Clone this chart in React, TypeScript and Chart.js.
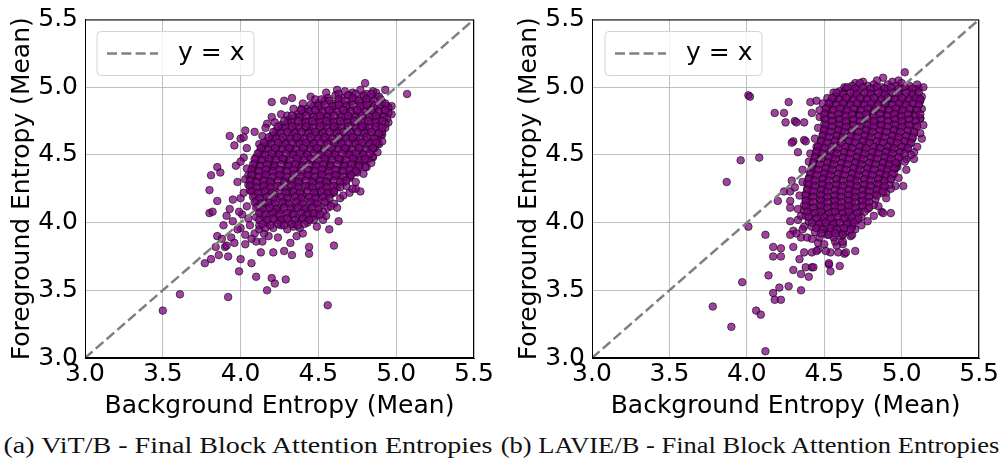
import React, { useEffect, useRef } from "react";
import { Chart, registerables } from "chart.js";

Chart.register(...registerables);

// ---------- DATA ----------
const axisTicks = [3.0, 3.5, 4.0, 4.5, 5.0, 5.5];
const diagonal = [3.0, 5.5];
const xTitle = "Background Entropy (Mean)";
const yTitle = "Foreground Entropy (Mean)";
const legendLabel = "y = x";
const captions = [
  "(a) ViT/B - Final Block Attention Entropies",
  "(b) LAVIE/B - Final Block Attention Entropies",
];

// ViT/B — dense centre of the cloud [background, foreground]
const vitCore: number[][] = [
  [4.67,4.97],[4.72,4.96],[4.77,4.98],[4.81,4.95],
  [4.56,4.92],[4.61,4.94],[4.65,4.92],[4.70,4.94],[4.74,4.91],[4.79,4.93],[4.84,4.92],[4.89,4.93],
  [4.50,4.88],[4.54,4.90],[4.59,4.88],[4.63,4.89],[4.68,4.87],[4.72,4.90],[4.77,4.88],[4.81,4.89],[4.86,4.87],[4.91,4.89],[4.94,4.86],
  [4.43,4.84],[4.47,4.86],[4.52,4.85],[4.56,4.83],[4.61,4.86],[4.65,4.84],[4.70,4.85],[4.74,4.83],[4.79,4.86],[4.83,4.84],[4.88,4.85],[4.92,4.83],[4.95,4.85],
  [4.37,4.80],[4.41,4.82],[4.46,4.80],[4.50,4.81],[4.55,4.79],[4.59,4.82],[4.64,4.80],[4.68,4.81],[4.73,4.79],[4.77,4.82],[4.82,4.80],[4.86,4.81],[4.91,4.79],[4.95,4.81],
  [4.31,4.76],[4.35,4.78],[4.40,4.77],[4.44,4.75],[4.49,4.78],[4.53,4.76],[4.58,4.77],[4.62,4.75],[4.67,4.78],[4.71,4.76],[4.76,4.77],[4.80,4.75],[4.85,4.78],[4.89,4.76],[4.94,4.77],
  [4.26,4.72],[4.30,4.74],[4.35,4.72],[4.39,4.73],[4.44,4.71],[4.48,4.74],[4.53,4.72],[4.57,4.73],[4.62,4.71],[4.66,4.74],[4.71,4.72],[4.75,4.73],[4.80,4.71],[4.84,4.74],[4.89,4.72],[4.93,4.73],
  [4.23,4.68],[4.27,4.70],[4.32,4.69],[4.36,4.67],[4.41,4.70],[4.45,4.68],[4.50,4.69],[4.54,4.67],[4.59,4.70],[4.63,4.68],[4.68,4.69],[4.72,4.67],[4.77,4.70],[4.81,4.68],[4.86,4.69],[4.91,4.67],
  [4.20,4.64],[4.24,4.66],[4.29,4.64],[4.33,4.65],[4.38,4.63],[4.42,4.66],[4.47,4.64],[4.51,4.65],[4.56,4.63],[4.60,4.66],[4.65,4.64],[4.69,4.65],[4.74,4.63],[4.78,4.66],[4.83,4.64],[4.88,4.65],
  [4.17,4.60],[4.21,4.62],[4.26,4.61],[4.30,4.59],[4.35,4.62],[4.39,4.60],[4.44,4.61],[4.48,4.59],[4.53,4.62],[4.57,4.60],[4.62,4.61],[4.66,4.59],[4.71,4.62],[4.75,4.60],[4.80,4.61],[4.85,4.59],[4.88,4.62],
  [4.14,4.56],[4.18,4.58],[4.23,4.56],[4.27,4.57],[4.32,4.55],[4.36,4.58],[4.41,4.56],[4.45,4.57],[4.50,4.55],[4.54,4.58],[4.59,4.56],[4.63,4.57],[4.68,4.55],[4.72,4.58],[4.77,4.56],[4.82,4.57],[4.86,4.55],
  [4.12,4.52],[4.16,4.54],[4.21,4.53],[4.25,4.51],[4.30,4.54],[4.34,4.52],[4.39,4.53],[4.43,4.51],[4.48,4.54],[4.52,4.52],[4.57,4.53],[4.61,4.51],[4.66,4.54],[4.70,4.52],[4.75,4.53],[4.79,4.51],[4.84,4.54],
  [4.10,4.48],[4.14,4.50],[4.19,4.48],[4.23,4.49],[4.28,4.47],[4.32,4.50],[4.37,4.48],[4.41,4.49],[4.46,4.47],[4.50,4.50],[4.55,4.48],[4.59,4.49],[4.64,4.47],[4.68,4.50],[4.73,4.48],[4.77,4.49],[4.82,4.47],
  [4.09,4.44],[4.13,4.46],[4.18,4.45],[4.22,4.43],[4.27,4.46],[4.31,4.44],[4.36,4.45],[4.40,4.43],[4.45,4.46],[4.49,4.44],[4.54,4.45],[4.58,4.43],[4.63,4.46],[4.67,4.44],[4.72,4.45],[4.76,4.43],[4.79,4.46],
  [4.08,4.40],[4.12,4.42],[4.17,4.40],[4.21,4.41],[4.26,4.39],[4.30,4.42],[4.35,4.40],[4.39,4.41],[4.44,4.39],[4.48,4.42],[4.53,4.40],[4.57,4.41],[4.62,4.39],[4.66,4.42],[4.71,4.40],[4.76,4.41],
  [4.07,4.36],[4.11,4.38],[4.16,4.36],[4.20,4.37],[4.25,4.35],[4.29,4.38],[4.34,4.36],[4.38,4.37],[4.43,4.35],[4.47,4.38],[4.52,4.36],[4.56,4.37],[4.61,4.35],[4.65,4.38],[4.70,4.36],[4.73,4.37],
  [4.07,4.32],[4.11,4.34],[4.15,4.33],[4.20,4.31],[4.24,4.34],[4.29,4.32],[4.33,4.33],[4.38,4.31],[4.42,4.34],[4.47,4.32],[4.51,4.33],[4.56,4.31],[4.60,4.34],[4.65,4.32],[4.70,4.33],
  [4.07,4.28],[4.11,4.30],[4.16,4.28],[4.20,4.29],[4.25,4.27],[4.29,4.30],[4.34,4.28],[4.38,4.29],[4.43,4.27],[4.47,4.30],[4.52,4.28],[4.56,4.29],[4.61,4.27],[4.66,4.30],
  [4.08,4.24],[4.12,4.26],[4.17,4.25],[4.21,4.23],[4.26,4.26],[4.30,4.24],[4.35,4.25],[4.39,4.23],[4.44,4.26],[4.48,4.24],[4.53,4.25],[4.57,4.23],[4.62,4.26],
  [4.09,4.20],[4.13,4.22],[4.18,4.20],[4.22,4.21],[4.27,4.19],[4.31,4.22],[4.36,4.20],[4.40,4.21],[4.45,4.19],[4.49,4.22],[4.54,4.20],[4.58,4.21],
  [4.10,4.16],[4.14,4.18],[4.19,4.16],[4.23,4.17],[4.28,4.15],[4.32,4.18],[4.37,4.16],[4.41,4.17],[4.46,4.15],[4.50,4.18],[4.55,4.16],
  [4.11,4.12],[4.15,4.14],[4.20,4.13],[4.24,4.11],[4.29,4.14],[4.33,4.12],[4.38,4.13],[4.42,4.11],[4.47,4.14],[4.51,4.12],
  [4.13,4.08],[4.17,4.10],[4.22,4.08],[4.26,4.09],[4.31,4.07],[4.35,4.10],[4.40,4.08],[4.44,4.09],[4.48,4.07],[4.53,4.08],
  [4.10,4.04],[4.15,4.04],[4.19,4.06],[4.24,4.05],[4.28,4.03],[4.33,4.06],[4.37,4.04],[4.42,4.05],[4.45,4.03],[4.49,4.05],
  [4.12,3.98],[4.17,4.00],[4.22,4.02],[4.26,4.00],[4.31,4.01],[4.35,3.99],[4.39,4.02],[4.43,4.00],[4.47,4.02],
  [4.16,3.96],[4.21,3.96],[4.26,3.98],[4.30,3.95],[4.34,3.97],[4.38,3.96],
];

// ViT/B — second, interleaved layer of the dense centre
const vitCoreFill: number[][] = [
  [4.63,4.95],[4.69,4.94],[4.74,4.95],[4.79,4.94],[4.84,4.95],
  [4.52,4.91],[4.57,4.90],[4.63,4.91],[4.67,4.90],[4.72,4.92],[4.76,4.90],[4.81,4.91],[4.86,4.90],[4.90,4.91],
  [4.45,4.87],[4.50,4.86],[4.54,4.87],[4.59,4.86],[4.63,4.87],[4.68,4.86],[4.72,4.87],[4.77,4.86],[4.81,4.87],[4.86,4.86],[4.90,4.87],[4.93,4.88],
  [4.39,4.83],[4.44,4.82],[4.48,4.83],[4.53,4.82],[4.57,4.83],[4.62,4.82],[4.66,4.83],[4.71,4.82],[4.75,4.83],[4.80,4.82],[4.84,4.83],[4.89,4.82],[4.93,4.83],
  [4.33,4.79],[4.38,4.78],[4.42,4.79],[4.47,4.78],[4.51,4.79],[4.56,4.78],[4.60,4.79],[4.65,4.78],[4.69,4.79],[4.74,4.78],[4.78,4.79],[4.83,4.78],[4.87,4.79],[4.92,4.78],
  [4.28,4.75],[4.33,4.74],[4.37,4.75],[4.42,4.74],[4.46,4.75],[4.51,4.74],[4.55,4.75],[4.60,4.74],[4.64,4.75],[4.69,4.74],[4.73,4.75],[4.78,4.74],[4.82,4.75],[4.87,4.74],[4.91,4.75],
  [4.24,4.71],[4.29,4.70],[4.33,4.71],[4.38,4.70],[4.42,4.71],[4.47,4.70],[4.51,4.71],[4.56,4.70],[4.60,4.71],[4.65,4.70],[4.69,4.71],[4.74,4.70],[4.78,4.71],[4.83,4.70],[4.87,4.71],[4.91,4.70],
  [4.21,4.67],[4.26,4.66],[4.30,4.67],[4.35,4.66],[4.39,4.67],[4.44,4.66],[4.48,4.67],[4.53,4.66],[4.57,4.67],[4.62,4.66],[4.66,4.67],[4.71,4.66],[4.75,4.67],[4.80,4.66],[4.84,4.67],[4.89,4.66],
  [4.18,4.63],[4.23,4.62],[4.27,4.63],[4.32,4.62],[4.36,4.63],[4.41,4.62],[4.45,4.63],[4.50,4.62],[4.54,4.63],[4.59,4.62],[4.63,4.63],[4.68,4.62],[4.72,4.63],[4.77,4.62],[4.81,4.63],[4.86,4.62],
  [4.15,4.59],[4.20,4.58],[4.24,4.59],[4.29,4.58],[4.33,4.59],[4.38,4.58],[4.42,4.59],[4.47,4.58],[4.51,4.59],[4.56,4.58],[4.60,4.59],[4.65,4.58],[4.69,4.59],[4.74,4.58],[4.78,4.59],[4.83,4.58],[4.87,4.59],
  [4.13,4.55],[4.18,4.54],[4.22,4.55],[4.27,4.54],[4.31,4.55],[4.36,4.54],[4.40,4.55],[4.45,4.54],[4.49,4.55],[4.54,4.54],[4.58,4.55],[4.63,4.54],[4.67,4.55],[4.72,4.54],[4.76,4.55],[4.81,4.54],[4.85,4.55],
  [4.11,4.51],[4.16,4.50],[4.20,4.51],[4.25,4.50],[4.29,4.51],[4.34,4.50],[4.38,4.51],[4.43,4.50],[4.47,4.51],[4.52,4.50],[4.56,4.51],[4.61,4.50],[4.65,4.51],[4.70,4.50],[4.74,4.51],[4.79,4.50],[4.83,4.51],
  [4.09,4.47],[4.14,4.46],[4.18,4.47],[4.23,4.46],[4.27,4.47],[4.32,4.46],[4.36,4.47],[4.41,4.46],[4.45,4.47],[4.50,4.46],[4.54,4.47],[4.59,4.46],[4.63,4.47],[4.68,4.46],[4.72,4.47],[4.77,4.46],[4.80,4.47],
  [4.08,4.43],[4.13,4.42],[4.17,4.43],[4.22,4.42],[4.26,4.43],[4.31,4.42],[4.35,4.43],[4.40,4.42],[4.44,4.43],[4.49,4.42],[4.53,4.43],[4.58,4.42],[4.62,4.43],[4.67,4.42],[4.71,4.43],[4.76,4.42],
  [4.07,4.39],[4.12,4.38],[4.16,4.39],[4.21,4.38],[4.25,4.39],[4.30,4.38],[4.34,4.39],[4.39,4.38],[4.43,4.39],[4.48,4.38],[4.52,4.39],[4.57,4.38],[4.61,4.39],[4.66,4.38],[4.70,4.39],[4.74,4.38],
  [4.07,4.35],[4.12,4.34],[4.16,4.35],[4.21,4.34],[4.25,4.35],[4.30,4.34],[4.34,4.35],[4.39,4.34],[4.43,4.35],[4.48,4.34],[4.52,4.35],[4.57,4.34],[4.61,4.35],[4.66,4.34],[4.71,4.35],
  [4.06,4.31],[4.10,4.30],[4.15,4.31],[4.19,4.30],[4.24,4.31],[4.28,4.30],[4.33,4.31],[4.37,4.30],[4.42,4.31],[4.46,4.30],[4.51,4.31],[4.55,4.30],[4.60,4.31],[4.64,4.30],[4.68,4.31],
  [4.06,4.27],[4.10,4.26],[4.15,4.27],[4.19,4.26],[4.24,4.27],[4.28,4.26],[4.33,4.27],[4.37,4.26],[4.42,4.27],[4.46,4.26],[4.51,4.27],[4.55,4.26],[4.60,4.27],[4.64,4.26],
  [4.07,4.23],[4.11,4.22],[4.16,4.23],[4.20,4.22],[4.25,4.23],[4.29,4.22],[4.34,4.23],[4.38,4.22],[4.43,4.23],[4.47,4.22],[4.52,4.23],[4.56,4.22],[4.60,4.23],
  [4.08,4.19],[4.12,4.18],[4.17,4.19],[4.21,4.18],[4.26,4.19],[4.30,4.18],[4.35,4.19],[4.39,4.18],[4.44,4.19],[4.48,4.18],[4.53,4.19],[4.57,4.18],
  [4.09,4.15],[4.13,4.14],[4.18,4.15],[4.22,4.14],[4.27,4.15],[4.31,4.14],[4.36,4.15],[4.40,4.14],[4.45,4.15],[4.49,4.14],[4.54,4.15],
  [4.10,4.11],[4.14,4.10],[4.19,4.11],[4.23,4.10],[4.28,4.11],[4.32,4.10],[4.37,4.11],[4.41,4.10],[4.46,4.11],[4.50,4.10],
  [4.12,4.07],[4.16,4.06],[4.21,4.07],[4.25,4.06],[4.30,4.07],[4.34,4.06],[4.39,4.07],[4.43,4.06],[4.47,4.07],[4.51,4.06],
  [4.12,4.02],[4.17,4.02],[4.21,4.03],[4.26,4.02],[4.30,4.03],[4.35,4.02],[4.40,4.03],[4.44,4.02],
  [4.14,3.99],[4.19,3.98],[4.24,3.99],[4.28,3.98],[4.33,3.99],[4.37,3.98],[4.41,3.99],
];

// ViT/B — sparser points around the cloud
const vitSpread: number[][] = [
  [3.50,3.35],[3.61,3.47],[3.92,3.45],[4.56,3.39],[3.77,3.70],[3.81,3.73],[3.99,3.64],[4.00,3.73],
  [4.07,3.70],[4.10,3.60],[4.20,3.59],[4.22,3.55],[4.29,3.58],[4.17,3.50],[3.86,3.76],[3.92,3.75],
  [3.84,3.82],[3.90,3.82],[3.85,3.90],[3.88,3.88],[3.94,3.89],[4.03,3.84],[4.13,3.78],[4.21,3.78],
  [4.28,3.79],[4.33,3.76],[4.32,3.85],[4.44,3.82],[4.44,3.77],[4.60,3.83],[4.49,3.97],[4.57,3.95],
  [4.63,4.01],[4.53,4.02],[3.80,4.07],[3.85,4.16],[3.80,4.24],[3.81,4.35],[3.85,4.41],[3.87,4.37],
  [3.93,4.64],[3.96,4.57],[4.00,4.62],[4.04,4.55],[3.97,4.42],[4.03,4.68],[4.09,4.67],[4.20,4.89],
  [4.28,4.90],[4.33,4.92],[4.30,4.79],[4.39,4.84],[4.45,4.93],[4.48,4.91],[4.80,5.03],[4.87,4.96],
  [4.93,4.98],[5.07,4.95],[4.95,4.74],[4.90,4.64],[4.88,4.58],[4.85,4.48],[4.81,4.41],[4.75,4.37],
  [4.70,4.34],[4.77,4.23],[4.74,4.25],[4.70,4.22],[4.64,4.18],[4.60,4.14],[4.56,4.11],[3.95,4.01],
  [4.00,3.96],[4.05,4.03],[4.03,3.91],[4.00,4.18],[4.05,4.28],[4.08,4.40],
  [4.20,4.78],[4.17,4.73],[4.02,4.63],[3.95,4.17],[3.91,4.05],[3.89,3.98],[3.82,4.08],[3.96,3.85],
  [3.91,3.83],[4.14,3.86],[4.72,4.25],[4.80,4.41],[4.85,4.49],[4.89,4.58],[4.91,4.65],[4.62,4.11],
  [4.02,4.48],[4.04,4.40],[4.03,4.32],[4.02,4.22],[4.04,4.12],[4.01,4.06],[4.06,3.98],[4.09,3.92],
  [4.06,4.24],[4.05,4.35],[3.98,4.30],[4.00,4.45],[4.10,3.86],[4.18,3.90],[4.24,3.89],[4.40,3.92],
  [4.36,3.90],[4.12,3.95],[4.15,3.92],[4.07,3.88],[3.98,3.95],[3.93,4.10],[3.99,4.08],[4.12,4.58],
  [4.14,4.64],[4.16,4.70],[4.22,4.74],[4.26,4.80],[4.34,4.84],[4.40,4.88],[4.55,4.96],[4.62,4.98],
  [4.85,4.97],[4.97,4.86],[4.97,4.80],[4.93,4.70],[4.91,4.60],[4.88,4.52],[4.84,4.44],[4.79,4.36],
  [4.74,4.30],[4.68,4.27],[4.66,4.20],[4.60,4.22],[4.58,4.12],[4.55,4.05],
];

// LAVIE/B — dense centre of the cloud
const lavieCore: number[][] = [
  [4.68,5.01],[4.73,5.03],[4.78,5.01],[4.82,5.02],[4.87,5.00],[4.91,5.02],[4.96,5.01],[5.00,5.03],[5.05,5.01],
  [4.60,4.97],[4.64,4.99],[4.69,4.97],[4.73,4.98],[4.78,4.96],[4.82,4.99],[4.87,4.97],[4.91,4.98],[4.96,4.96],[5.00,4.99],[5.05,4.97],[5.09,4.98],
  [4.57,4.93],[4.62,4.95],[4.66,4.93],[4.71,4.94],[4.75,4.92],[4.80,4.95],[4.84,4.93],[4.89,4.94],[4.93,4.92],[4.98,4.95],[5.02,4.93],[5.07,4.94],[5.11,4.92],
  [4.54,4.89],[4.59,4.91],[4.63,4.89],[4.68,4.90],[4.72,4.88],[4.77,4.91],[4.81,4.89],[4.86,4.90],[4.90,4.88],[4.95,4.91],[4.99,4.89],[5.04,4.90],[5.08,4.88],[5.12,4.90],
  [4.52,4.85],[4.56,4.87],[4.61,4.85],[4.65,4.86],[4.70,4.84],[4.74,4.87],[4.79,4.85],[4.83,4.86],[4.88,4.84],[4.92,4.87],[4.97,4.85],[5.01,4.86],[5.06,4.84],[5.11,4.87],
  [4.51,4.81],[4.55,4.83],[4.60,4.81],[4.64,4.82],[4.69,4.80],[4.73,4.83],[4.78,4.81],[4.82,4.82],[4.87,4.80],[4.91,4.83],[4.96,4.81],[5.00,4.82],[5.05,4.80],[5.10,4.83],
  [4.50,4.77],[4.54,4.79],[4.59,4.77],[4.63,4.78],[4.68,4.76],[4.72,4.79],[4.77,4.77],[4.81,4.78],[4.86,4.76],[4.90,4.79],[4.95,4.77],[4.99,4.78],[5.04,4.76],[5.08,4.79],[5.12,4.77],
  [4.50,4.73],[4.55,4.75],[4.59,4.73],[4.64,4.74],[4.68,4.72],[4.73,4.75],[4.77,4.73],[4.82,4.74],[4.86,4.72],[4.91,4.75],[4.95,4.73],[5.00,4.74],[5.04,4.72],[5.09,4.75],
  [4.50,4.69],[4.54,4.71],[4.59,4.69],[4.63,4.70],[4.68,4.68],[4.72,4.71],[4.77,4.69],[4.81,4.70],[4.86,4.68],[4.90,4.71],[4.95,4.69],[4.99,4.70],[5.04,4.68],[5.09,4.71],
  [4.49,4.65],[4.53,4.67],[4.58,4.65],[4.62,4.66],[4.67,4.64],[4.71,4.67],[4.76,4.65],[4.80,4.66],[4.85,4.64],[4.89,4.67],[4.94,4.65],[4.98,4.66],[5.03,4.64],[5.08,4.66],
  [4.48,4.61],[4.52,4.63],[4.57,4.61],[4.61,4.62],[4.66,4.60],[4.70,4.63],[4.75,4.61],[4.79,4.62],[4.84,4.60],[4.88,4.63],[4.93,4.61],[4.97,4.62],[5.02,4.60],[5.07,4.62],
  [4.47,4.57],[4.51,4.59],[4.56,4.57],[4.60,4.58],[4.65,4.56],[4.69,4.59],[4.74,4.57],[4.78,4.58],[4.83,4.56],[4.87,4.59],[4.92,4.57],[4.96,4.58],[5.01,4.56],[5.05,4.58],
  [4.45,4.53],[4.49,4.55],[4.54,4.53],[4.58,4.54],[4.63,4.52],[4.67,4.55],[4.72,4.53],[4.76,4.54],[4.81,4.52],[4.85,4.55],[4.90,4.53],[4.94,4.54],[4.99,4.52],[5.03,4.54],
  [4.44,4.49],[4.48,4.51],[4.53,4.49],[4.57,4.50],[4.62,4.48],[4.66,4.51],[4.71,4.49],[4.75,4.50],[4.80,4.48],[4.84,4.51],[4.89,4.49],[4.93,4.50],[4.98,4.48],
  [4.43,4.45],[4.47,4.47],[4.52,4.45],[4.56,4.46],[4.61,4.44],[4.65,4.47],[4.70,4.45],[4.74,4.46],[4.79,4.44],[4.83,4.47],[4.88,4.45],[4.92,4.46],[4.97,4.44],
  [4.42,4.41],[4.46,4.43],[4.51,4.41],[4.55,4.42],[4.60,4.40],[4.64,4.43],[4.69,4.41],[4.73,4.42],[4.78,4.40],[4.82,4.43],[4.87,4.41],[4.91,4.42],[4.96,4.40],
  [4.41,4.37],[4.45,4.39],[4.50,4.37],[4.54,4.38],[4.59,4.36],[4.63,4.39],[4.68,4.37],[4.72,4.38],[4.77,4.36],[4.81,4.39],[4.86,4.37],[4.90,4.38],[4.95,4.36],
  [4.40,4.33],[4.44,4.35],[4.49,4.33],[4.53,4.34],[4.58,4.32],[4.62,4.35],[4.67,4.33],[4.71,4.34],[4.76,4.32],[4.80,4.35],[4.85,4.33],[4.89,4.34],[4.93,4.32],
  [4.39,4.29],[4.43,4.31],[4.48,4.29],[4.52,4.30],[4.57,4.28],[4.61,4.31],[4.66,4.29],[4.70,4.30],[4.75,4.28],[4.79,4.31],[4.84,4.29],[4.88,4.30],[4.92,4.28],
  [4.39,4.25],[4.43,4.27],[4.48,4.25],[4.52,4.26],[4.57,4.24],[4.61,4.27],[4.66,4.25],[4.70,4.26],[4.75,4.24],[4.79,4.27],[4.84,4.25],[4.88,4.26],
  [4.38,4.21],[4.42,4.23],[4.47,4.21],[4.51,4.22],[4.56,4.20],[4.60,4.23],[4.65,4.21],[4.69,4.22],[4.74,4.20],[4.78,4.23],[4.83,4.21],[4.87,4.22],
  [4.38,4.17],[4.42,4.19],[4.47,4.17],[4.51,4.18],[4.56,4.16],[4.60,4.19],[4.65,4.17],[4.69,4.18],[4.74,4.16],[4.78,4.19],[4.83,4.17],
  [4.37,4.13],[4.41,4.15],[4.46,4.13],[4.50,4.14],[4.55,4.12],[4.59,4.15],[4.64,4.13],[4.68,4.14],[4.73,4.12],[4.77,4.15],[4.82,4.13],
  [4.37,4.09],[4.41,4.11],[4.46,4.09],[4.50,4.10],[4.55,4.08],[4.59,4.11],[4.64,4.09],[4.68,4.10],[4.73,4.08],[4.78,4.10],
  [4.38,4.05],[4.42,4.07],[4.47,4.05],[4.51,4.06],[4.56,4.04],[4.60,4.07],[4.65,4.05],[4.69,4.06],[4.74,4.04],
  [4.40,4.01],[4.44,4.03],[4.49,4.01],[4.53,4.02],[4.58,4.00],[4.62,4.03],[4.67,4.01],[4.71,4.02],
  [4.42,3.97],[4.46,3.99],[4.51,3.97],[4.55,3.98],[4.60,3.96],[4.64,3.99],[4.68,3.97],
  [4.44,3.93],[4.48,3.95],[4.53,3.93],[4.57,3.94],[4.62,3.92],[4.65,3.94],
  [4.47,3.89],[4.52,3.91],[4.56,3.89],[4.61,3.90],
];

// LAVIE/B — second, interleaved layer of the dense centre
const lavieCoreFill: number[][] = [
  [4.65,5.00],[4.70,4.99],[4.75,5.00],[4.80,4.99],[4.84,5.00],[4.89,4.99],[4.93,5.00],[4.98,4.99],[5.02,5.00],[5.07,4.99],
  [4.58,4.96],[4.62,4.95],[4.67,4.96],[4.71,4.95],[4.76,4.96],[4.80,4.95],[4.85,4.96],[4.89,4.95],[4.94,4.96],[4.98,4.95],[5.03,4.96],[5.07,4.95],[5.11,4.96],
  [4.55,4.92],[4.60,4.91],[4.64,4.92],[4.69,4.91],[4.73,4.92],[4.78,4.91],[4.82,4.92],[4.87,4.91],[4.91,4.92],[4.96,4.91],[5.00,4.92],[5.05,4.91],[5.09,4.92],[5.12,4.91],
  [4.53,4.88],[4.58,4.87],[4.62,4.88],[4.67,4.87],[4.71,4.88],[4.76,4.87],[4.80,4.88],[4.85,4.87],[4.89,4.88],[4.94,4.87],[4.98,4.88],[5.03,4.87],[5.07,4.88],[5.11,4.87],
  [4.51,4.84],[4.56,4.83],[4.60,4.84],[4.65,4.83],[4.69,4.84],[4.74,4.83],[4.78,4.84],[4.83,4.83],[4.87,4.84],[4.92,4.83],[4.96,4.84],[5.01,4.83],[5.05,4.84],[5.10,4.83],
  [4.50,4.80],[4.55,4.79],[4.59,4.80],[4.64,4.79],[4.68,4.80],[4.73,4.79],[4.77,4.80],[4.82,4.79],[4.86,4.80],[4.91,4.79],[4.95,4.80],[5.00,4.79],[5.04,4.80],[5.09,4.79],[5.12,4.80],
  [4.51,4.76],[4.55,4.75],[4.60,4.76],[4.64,4.75],[4.69,4.76],[4.73,4.75],[4.78,4.76],[4.82,4.75],[4.87,4.76],[4.91,4.75],[4.96,4.76],[5.00,4.75],[5.05,4.76],[5.09,4.75],
  [4.51,4.72],[4.55,4.71],[4.60,4.72],[4.64,4.71],[4.69,4.72],[4.73,4.71],[4.78,4.72],[4.82,4.71],[4.87,4.72],[4.91,4.71],[4.96,4.72],[5.00,4.71],[5.05,4.72],[5.10,4.71],
  [4.50,4.68],[4.54,4.67],[4.59,4.68],[4.63,4.67],[4.68,4.68],[4.72,4.67],[4.77,4.68],[4.81,4.67],[4.86,4.68],[4.90,4.67],[4.95,4.68],[4.99,4.67],[5.04,4.68],[5.08,4.67],
  [4.49,4.64],[4.53,4.63],[4.58,4.64],[4.62,4.63],[4.67,4.64],[4.71,4.63],[4.76,4.64],[4.80,4.63],[4.85,4.64],[4.89,4.63],[4.94,4.64],[4.98,4.63],[5.03,4.64],[5.07,4.63],
  [4.48,4.60],[4.52,4.59],[4.57,4.60],[4.61,4.59],[4.66,4.60],[4.70,4.59],[4.75,4.60],[4.79,4.59],[4.84,4.60],[4.88,4.59],[4.93,4.60],[4.97,4.59],[5.02,4.60],[5.06,4.59],
  [4.46,4.56],[4.50,4.55],[4.55,4.56],[4.59,4.55],[4.64,4.56],[4.68,4.55],[4.73,4.56],[4.77,4.55],[4.82,4.56],[4.86,4.55],[4.91,4.56],[4.95,4.55],[5.00,4.56],[5.04,4.55],
  [4.45,4.52],[4.49,4.51],[4.54,4.52],[4.58,4.51],[4.63,4.52],[4.67,4.51],[4.72,4.52],[4.76,4.51],[4.81,4.52],[4.85,4.51],[4.90,4.52],[4.94,4.51],[4.99,4.52],[5.02,4.51],
  [4.44,4.48],[4.48,4.47],[4.53,4.48],[4.57,4.47],[4.62,4.48],[4.66,4.47],[4.71,4.48],[4.75,4.47],[4.80,4.48],[4.84,4.47],[4.89,4.48],[4.93,4.47],[4.98,4.48],
  [4.43,4.44],[4.47,4.43],[4.52,4.44],[4.56,4.43],[4.61,4.44],[4.65,4.43],[4.70,4.44],[4.74,4.43],[4.79,4.44],[4.83,4.43],[4.88,4.44],[4.92,4.43],[4.96,4.44],
  [4.42,4.40],[4.46,4.39],[4.51,4.40],[4.55,4.39],[4.60,4.40],[4.64,4.39],[4.69,4.40],[4.73,4.39],[4.78,4.40],[4.82,4.39],[4.87,4.40],[4.91,4.39],[4.95,4.40],
  [4.41,4.36],[4.45,4.35],[4.50,4.36],[4.54,4.35],[4.59,4.36],[4.63,4.35],[4.68,4.36],[4.72,4.35],[4.77,4.36],[4.81,4.35],[4.86,4.36],[4.90,4.35],[4.94,4.36],
  [4.40,4.32],[4.44,4.31],[4.49,4.32],[4.53,4.31],[4.58,4.32],[4.62,4.31],[4.67,4.32],[4.71,4.31],[4.76,4.32],[4.80,4.31],[4.85,4.32],[4.89,4.31],[4.93,4.32],
  [4.40,4.28],[4.44,4.27],[4.49,4.28],[4.53,4.27],[4.58,4.28],[4.62,4.27],[4.67,4.28],[4.71,4.27],[4.76,4.28],[4.80,4.27],[4.85,4.28],[4.89,4.27],
  [4.39,4.24],[4.43,4.23],[4.48,4.24],[4.52,4.23],[4.57,4.24],[4.61,4.23],[4.66,4.24],[4.70,4.23],[4.75,4.24],[4.79,4.23],[4.84,4.24],[4.88,4.23],
  [4.38,4.20],[4.43,4.19],[4.48,4.20],[4.52,4.19],[4.57,4.20],[4.61,4.19],[4.66,4.20],[4.70,4.19],[4.75,4.20],[4.79,4.19],[4.84,4.20],
  [4.38,4.16],[4.43,4.15],[4.48,4.16],[4.52,4.15],[4.57,4.16],[4.61,4.15],[4.66,4.16],[4.70,4.15],[4.75,4.16],[4.79,4.15],
  [4.38,4.12],[4.43,4.11],[4.48,4.12],[4.52,4.11],[4.57,4.12],[4.61,4.11],[4.66,4.12],[4.70,4.11],[4.75,4.12],[4.79,4.11],
  [4.39,4.08],[4.44,4.07],[4.48,4.08],[4.53,4.07],[4.57,4.08],[4.62,4.07],[4.66,4.08],[4.71,4.07],[4.76,4.08],
  [4.40,4.04],[4.45,4.03],[4.50,4.04],[4.54,4.03],[4.59,4.04],[4.63,4.03],[4.68,4.04],[4.72,4.03],
  [4.42,4.00],[4.47,3.99],[4.51,4.00],[4.56,3.99],[4.60,4.00],[4.65,3.99],[4.69,4.00],
  [4.45,3.96],[4.49,3.95],[4.54,3.96],[4.58,3.95],[4.63,3.96],[4.67,3.95],
  [4.48,3.92],[4.53,3.91],[4.57,3.92],[4.62,3.91],
];

// LAVIE/B — sparser points around the cloud
const lavieSpread: number[][] = [
  [4.01,4.94],[4.02,4.93],[3.96,4.46],[4.08,4.48],[3.87,4.30],[4.01,3.97],[4.12,3.91],[3.97,3.56],
  [3.78,3.38],[3.90,3.23],[4.06,3.35],[4.09,3.32],[4.12,3.05],[4.14,3.61],[4.17,3.48],[4.18,3.43],
  [4.22,3.43],[4.21,3.52],[4.27,3.53],[4.35,3.50],[4.17,3.82],[4.17,3.75],[4.22,3.81],[4.22,3.75],
  [4.20,4.16],[4.24,4.23],[4.24,4.81],[4.27,4.89],[4.25,4.74],[4.31,4.75],[4.37,4.74],[4.30,4.60],
  [4.37,4.61],[4.33,4.52],[4.41,4.51],[4.41,4.89],[4.45,4.90],[4.42,4.81],[4.47,4.83],[4.28,4.16],
  [4.30,3.94],[4.30,3.82],[4.28,4.01],[4.35,3.89],[4.32,3.92],[4.30,3.65],[4.34,3.73],[4.35,3.62],
  [4.38,3.67],[4.42,3.67],[4.40,3.60],[4.37,3.78],[4.42,3.78],[4.46,3.80],[4.53,3.69],[4.54,3.64],
  [4.54,3.78],[4.60,3.68],[4.59,3.78],[4.63,3.77],[4.70,3.79],[4.62,3.84],[4.67,3.90],[5.02,5.11],
  [4.88,5.07],[4.75,5.04],[5.11,4.99],[5.13,4.62],[5.12,4.77],[5.03,4.39],[5.01,4.27],[4.96,4.27],
  [4.97,4.43],[4.90,4.22],[4.93,4.07],[4.87,4.08],[4.78,4.01],[5.08,4.47],
  [4.18,4.81],[4.32,4.74],[4.94,5.04],[5.14,5.00],[5.08,4.52],[4.97,4.41],[4.88,4.07],[4.64,3.78],
  [4.53,3.70],[4.43,3.67],[4.29,4.59],[4.38,4.60],[4.29,4.31],[4.36,4.39],[4.28,4.23],[4.31,4.26],
  [4.28,4.11],[4.33,4.02],[4.28,3.91],[4.37,3.97],[4.39,3.89],[4.46,3.85],[4.45,3.79],[4.51,3.79],
  [4.58,3.83],[4.62,3.86],[4.68,3.91],[4.68,3.98],[5.03,4.47],
  [4.44,4.62],[4.46,4.70],[4.47,4.78],[4.45,4.56],[4.40,4.45],[4.36,4.30],[4.34,4.20],[4.33,4.10],
  [4.35,4.05],[4.36,3.95],[4.42,3.88],[4.50,3.84],[4.57,3.86],[4.70,3.95],[4.74,3.98],[4.82,4.05],
  [4.85,4.12],[4.90,4.18],[4.93,4.25],[4.98,4.33],[5.02,4.45],[5.06,4.50],[5.10,4.56],[5.12,4.66],
  [5.14,4.72],[5.13,4.84],[5.13,4.93],[5.10,5.02],[4.98,5.05],[4.84,5.05],[4.70,5.03],[4.63,5.00],
  [4.56,4.96],[4.52,4.92],[4.49,4.88],
];

// ---------- STYLE ----------
const FONT = "'DejaVu Sans', sans-serif";
const tickFont = { family: FONT, size: 25, lineHeight: 1 };
const titleFont = { family: FONT, size: 25, lineHeight: 1.2 };

const framePlugin = {
  id: "frameAndLegend",
  afterDraw(chart: any) {
    const { ctx, chartArea } = chart;
    const { left, top, right, bottom } = chartArea;
    ctx.save();
    ctx.strokeStyle = "#000";
    ctx.lineWidth = 1;
    ctx.strokeRect(left + 0.5, top + 0.5, right - left - 1, bottom - top - 1);

    // legend box (upper left)
    const lo = chart.options.plugins.innerLegend || { dx: 12, dy: 12 };
    const bx = left + lo.dx;
    const by = top + lo.dy;
    const bw = 157;
    const bh = 44;
    const r = 4;
    ctx.beginPath();
    ctx.moveTo(bx + r, by);
    ctx.lineTo(bx + bw - r, by);
    ctx.arcTo(bx + bw, by, bx + bw, by + r, r);
    ctx.lineTo(bx + bw, by + bh - r);
    ctx.arcTo(bx + bw, by + bh, bx + bw - r, by + bh, r);
    ctx.lineTo(bx + r, by + bh);
    ctx.arcTo(bx, by + bh, bx, by + bh - r, r);
    ctx.lineTo(bx, by + r);
    ctx.arcTo(bx, by, bx + r, by, r);
    ctx.closePath();
    ctx.fillStyle = "rgba(255,255,255,0.8)";
    ctx.fill();
    ctx.strokeStyle = "#d4d4d4";
    ctx.lineWidth = 1;
    ctx.stroke();

    const ds = chart.data.datasets[0];
    const cy = by + bh / 2;
    ctx.beginPath();
    ctx.setLineDash(ds.borderDash);
    ctx.strokeStyle = ds.borderColor;
    ctx.lineWidth = ds.borderWidth;
    ctx.moveTo(bx + 10, cy);
    ctx.lineTo(bx + 61, cy);
    ctx.stroke();
    ctx.setLineDash([]);
    ctx.fillStyle = "#000";
    ctx.font = `25px ${FONT}`;
    ctx.textBaseline = "middle";
    ctx.textAlign = "left";
    ctx.fillText(ds.label, bx + 81, cy);
    ctx.restore();
  },
};

function buildConfig(groups: number[][][], rightPad: number, legendDx: number) {
  const pts = ([] as number[][]).concat(...groups).map(([x, y]) => ({ x, y }));
  const axisCommon = (title: string, isX: boolean) => ({
    type: "linear",
    min: axisTicks[0],
    max: axisTicks[axisTicks.length - 1],
    afterBuildTicks: (scale: any) => {
      scale.ticks = axisTicks.map((v) => ({ value: v }));
    },
    ticks: {
      color: "#000",
      font: tickFont,
      padding: isX ? 4 : 7,
      callback: (v: any) => Number(v).toFixed(1),
    },
    grid: { color: "#b0b0b0", lineWidth: 0.8, drawTicks: false },
    border: { display: true, color: "#000", width: 1 },
    title: {
      display: true,
      text: title,
      color: "#000",
      font: titleFont,
      padding: isX ? { top: 0, bottom: 4 } : { top: 7, bottom: 0 },
    },
    afterFit: (scale: any) => {
      if (isX) scale.height = 67;
      else scale.width = 85;
    },
  });
  return {
    type: "scatter",
    data: {
      datasets: [
        {
          type: "line",
          label: legendLabel,
          data: diagonal.map((v) => ({ x: v, y: v })),
          borderColor: "#808080",
          borderWidth: 2.5,
          borderDash: [10, 4.3],
          pointRadius: 0,
          fill: false,
          order: 0,
        },
        {
          type: "scatter",
          label: "entropies",
          data: pts,
          backgroundColor: "rgba(128,0,128,0.74)",
          borderColor: "rgba(0,0,0,0.78)",
          borderWidth: 0.75,
          pointRadius: 3.8,
          order: 1,
        },
      ],
    },
    options: {
      responsive: false,
      animation: false,
      devicePixelRatio: 1,
      layout: { padding: { left: 0, top: 16, right: rightPad, bottom: 0 } },
      plugins: {
        legend: { display: false },
        tooltip: { enabled: false },
        innerLegend: { dx: legendDx, dy: 12 },
      },
      scales: {
        x: axisCommon(xTitle, true),
        y: axisCommon(yTitle, false),
      },
    },
    plugins: [framePlugin],
  };
}

function ScatterPanel(props: { groups: number[][][]; width: number; rightPad: number; legendDx: number; left: number }) {
  const ref = useRef<HTMLCanvasElement | null>(null);
  useEffect(() => {
    if (!ref.current) return;
    const chart = new Chart(ref.current, buildConfig(props.groups, props.rightPad, props.legendDx) as any);
    return () => chart.destroy();
  }, []);
  return (
    <canvas
      ref={ref}
      width={props.width}
      height={425}
      style={{ position: "absolute", left: props.left, top: 0, width: props.width, height: 425 }}
    />
  );
}

function Caption(props: { text: string; center: number; width: number }) {
  const font = "23px 'Liberation Serif', serif";
  let scale = 1;
  try {
    const c = document.createElement("canvas").getContext("2d");
    if (c) {
      c.font = font;
      const w = c.measureText(props.text).width;
      if (w > 0) scale = props.width / w;
    }
  } catch (e) {}
  return (
    <div
      style={{
        position: "absolute",
        left: props.center - 400,
        top: 433,
        width: 800,
        textAlign: "center",
        font,
        lineHeight: "26px",
        color: "#111",
        whiteSpace: "nowrap",
        transform: `scaleX(${scale})`,
        transformOrigin: "center",
      }}
    >
      {props.text}
    </div>
  );
}

export default function App() {
  return (
    <div style={{ position: "absolute", left: 0, top: 0, width: 1003, height: 465, background: "#fff", overflow: "hidden" }}>
      <ScatterPanel groups={[vitSpread, vitCore, vitCoreFill]} width={500} rightPad={26} legendDx={12} left={0} />
      <ScatterPanel groups={[lavieSpread, lavieCore, lavieCoreFill]} width={496} rightPad={21} legendDx={13} left={507} />
      <Caption text={captions[0]} center={247.5} width={491} />
      <Caption text={captions[1]} center={750} width={500} />
    </div>
  );
}
